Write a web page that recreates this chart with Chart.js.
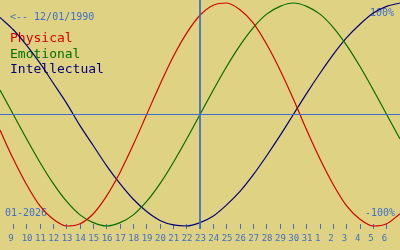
<!DOCTYPE html>
<html>
<head>
<meta charset="utf-8">
<script src="https://cdn.jsdelivr.net/npm/chart.js@4/dist/chart.umd.min.js"></script>
<style>
  html, body { margin: 0; padding: 0; background: #e0d283; }
  #wrap { width: 400px; height: 250px; }
  canvas { display: block; }
</style>
</head>
<body>
<div id="wrap"><canvas id="c" width="400" height="250"></canvas></div>
<script>
// ---- data ----
const dayLabels = ['9','10','11','12','13','14','15','16','17','18','19','20','21','22','23',
                   '24','25','26','27','28','29','30','31','1','2','3','4','5','6'];
// values for day positions -1 .. 29 (Jan 8 .. Feb 7), in fraction of 100%
const physical     = [-0.14,-0.40,-0.63,-0.82,-0.94,-1.00,-0.98,-0.89,-0.73,-0.52,-0.27,0.00,
                       0.27,0.52,0.73,0.89,0.98,1.00,0.94,0.82,0.63,0.40,0.14,-0.14,-0.40,-0.63,
                      -0.82,-0.94,-1.00,-0.98,-0.89];
const emotional    = [0.22,0.00,-0.22,-0.43,-0.62,-0.78,-0.90,-0.97,-1.00,-0.97,-0.90,-0.78,
                      -0.62,-0.43,-0.22,0.00,0.22,0.43,0.62,0.78,0.90,0.97,1.00,0.97,0.90,0.78,
                       0.62,0.43,0.22,0.00,-0.22];
const intellectual = [0.87,0.76,0.62,0.46,0.28,0.10,-0.10,-0.28,-0.46,-0.62,-0.76,-0.87,-0.95,
                      -0.99,-1.00,-0.97,-0.91,-0.81,-0.69,-0.54,-0.37,-0.19,0.00,0.19,0.37,0.54,
                       0.69,0.81,0.91,0.97,1.00];
const seriesNames  = ['Physical','Emotional','Intellectual'];
const birthLabel   = '<-- 12/01/1990';
const monthLabel   = '01-2026';
const topLabel     = '100%';
const bottomLabel  = '-100%';
const todayIndex   = 14;          // 23rd
const firstPos     = -1;          // Jan 8 at left edge

// ---- styles ----
const BLUE = '#3b6fc9';
const colors = ['#d40000', '#007000', '#000080'];
const MONO = '"DejaVu Sans Mono", "Liberation Mono", monospace';

const toPoints = arr => arr.map((v, i) => ({x: i + firstPos, y: v}));
const lastPos = firstPos + physical.length - 1;

const Y_MAX = 1.0269, Y_MIN = -1.2152;

const datasets = [
  { label: 'today', data: [{x: todayIndex, y: Y_MAX}, {x: todayIndex, y: -1.027}],
    borderColor: BLUE, borderWidth: 1, pointRadius: 0, tension: 0, isRef: true },
  { label: 'zero', data: [{x: firstPos, y: 0}, {x: lastPos, y: 0}],
    borderColor: BLUE, borderWidth: 1, pointRadius: 0, tension: 0, isRef: true },
];
[physical, emotional, intellectual].forEach((arr, k) => {
  datasets.push({ label: seriesNames[k], data: toPoints(arr), borderColor: colors[k],
    borderWidth: 1.2, pointRadius: 0, cubicInterpolationMode: 'monotone', fill: false });
});

const textPlugin = {
  id: 'texts',
  beforeDatasetsDraw(chart) {
    const ctx = chart.ctx;
    ctx.save();
    ctx.textBaseline = 'alphabetic';
    ctx.font = '10px ' + MONO;
    ctx.fillStyle = BLUE;
    ctx.textAlign = 'left';
    ctx.fillText(birthLabel, 10, 20);
    ctx.fillText(monthLabel, 5, 216);
    ctx.textAlign = 'right';
    ctx.fillText(topLabel, 394, 16);
    ctx.fillText(bottomLabel, 395, 216);
    ctx.textAlign = 'left';
    ctx.font = '13px ' + MONO;
    const baselines = [42, 57.5, 73];
    chart.data.datasets.filter(d => !d.isRef).forEach((d, i) => {
      ctx.fillStyle = d.borderColor;
      ctx.fillText(d.label, 10, baselines[i]);
    });
    ctx.restore();
  }
};

new Chart(document.getElementById('c'), {
  type: 'line',
  data: { datasets },
  options: {
    responsive: false,
    animation: false,
    layout: { padding: 0 },
    plugins: { legend: { display: false }, tooltip: { enabled: false } },
    scales: {
      x: {
        type: 'linear', min: firstPos, max: lastPos,
        position: { y: -0.9776 },
        border: { display: false },
        grid: { drawOnChartArea: false, drawTicks: true, tickLength: 5, tickColor: BLUE, lineWidth: 1 },
        ticks: {
          stepSize: 1, autoSkip: false, maxRotation: 0, minRotation: 0,
          align: 'start', labelOffset: -5, padding: 5, color: BLUE,
          font: { family: MONO, size: 9 },
          callback: v => (dayLabels[v] !== undefined ? dayLabels[v] : '')
        },
        afterBuildTicks: s => { s.ticks = s.ticks.filter(t => t.value >= 0 && t.value < dayLabels.length); }
      },
      y: { type: 'linear', display: false, min: Y_MIN, max: Y_MAX }
    }
  },
  plugins: [textPlugin]
});
</script>
</body>
</html>
